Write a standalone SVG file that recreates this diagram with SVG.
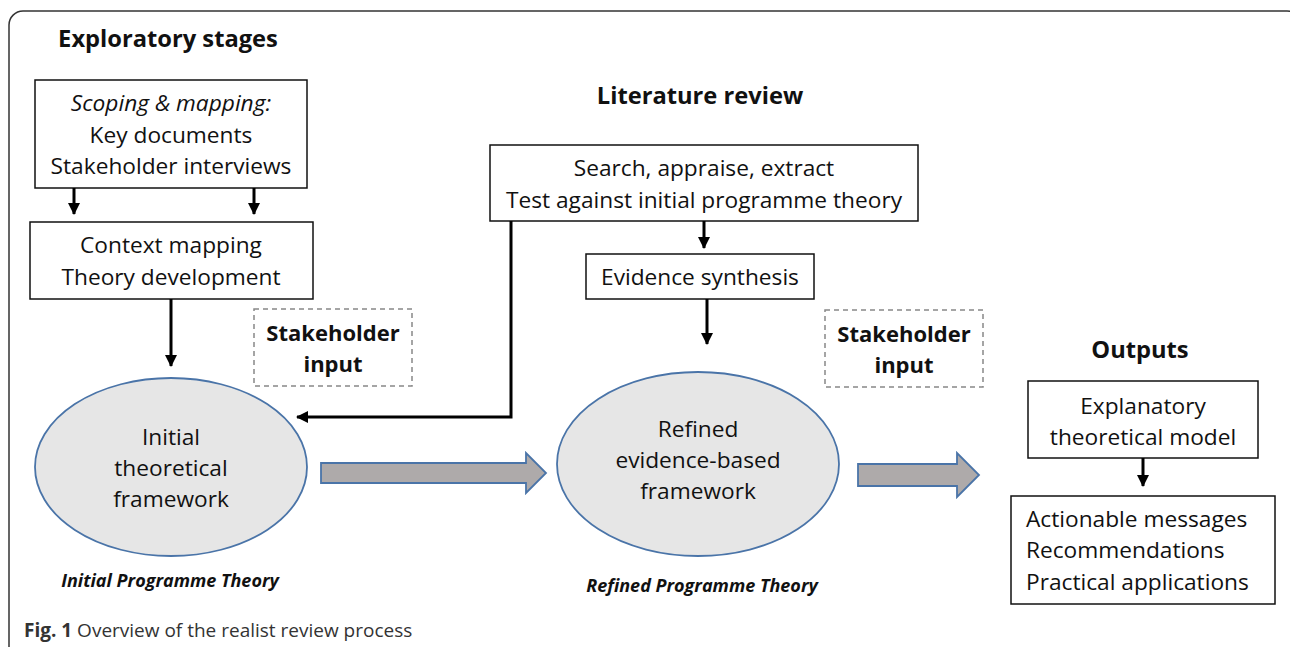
<svg xmlns="http://www.w3.org/2000/svg" width="1290" height="647" viewBox="0 0 1290 647">
<defs>
<marker id="ah" markerUnits="userSpaceOnUse" markerWidth="12" markerHeight="12" viewBox="0 0 12 12" refX="11" refY="6" orient="auto">
<path d="M0,0 L12,6 L0,12 Z" fill="#000"/>
</marker>
<style>
.t{font-family:"Open Sans","Liberation Sans",sans-serif;font-size:22.7px;fill:#111;text-anchor:middle}
.l{text-anchor:start}
.b{font-family:"Open Sans","Liberation Sans",sans-serif;font-size:22px;font-weight:bold;fill:#111;text-anchor:middle}
.h{font-size:23.7px}
.bi{font-family:"Open Sans","Liberation Sans",sans-serif;font-size:18px;font-weight:bold;font-style:italic;fill:#111;text-anchor:middle}
.box{fill:#fff;stroke:#111;stroke-width:1.5}
.dash{fill:#fff;stroke:#888;stroke-width:1.5;stroke-dasharray:5 4}
.ell{fill:#e6e6e6;stroke:#4a74a8;stroke-width:1.8}
.blk{fill:#aeaaaa;stroke:#4a74a8;stroke-width:1.8}
.ln{fill:none;stroke:#000;stroke-width:3}
</style>
</defs>
<rect x="9" y="11" width="1292" height="700" rx="14" fill="none" stroke="#333" stroke-width="1.5"/>
<text class="b h" x="168" y="47">Exploratory stages</text>
<text class="b h" x="700" y="104">Literature review</text>
<text class="b h" x="1140" y="358">Outputs</text>

<g id="scoping">
<rect class="box" x="35" y="80" width="272" height="108"/>
<text class="t" x="171" y="111" font-style="italic">Scoping &amp; mapping:</text>
<text class="t" x="171" y="143">Key documents</text>
<text class="t" x="171" y="174">Stakeholder interviews</text>
</g>
<g id="context">
<rect class="box" x="30" y="222" width="283" height="77"/>
<text class="t" x="171" y="253">Context mapping</text>
<text class="t" x="171" y="285">Theory development</text>
</g>
<g id="initial">
<ellipse class="ell" cx="171" cy="467" rx="136" ry="89"/>
<text class="t" x="171" y="445">Initial</text>
<text class="t" x="171" y="476">theoretical</text>
<text class="t" x="171" y="507">framework</text>
<text class="bi" x="170" y="587">Initial Programme Theory</text>
</g>
<g id="stake1">
<rect class="dash" x="254" y="309" width="158" height="77"/>
<text class="b" x="333" y="341">Stakeholder</text>
<text class="b" x="333" y="372">input</text>
</g>
<g id="search">
<rect class="box" x="490" y="145" width="428" height="76"/>
<text class="t" x="704" y="176">Search, appraise, extract</text>
<text class="t" x="704" y="208">Test against initial programme theory</text>
</g>
<g id="synthesis">
<rect class="box" x="586" y="254" width="228" height="45"/>
<text class="t" x="700" y="285">Evidence synthesis</text>
</g>
<g id="refined">
<ellipse class="ell" cx="698" cy="464" rx="141" ry="92"/>
<text class="t" x="698" y="437">Refined</text>
<text class="t" x="698" y="468">evidence-based</text>
<text class="t" x="698" y="499">framework</text>
<text class="bi" x="702" y="592">Refined Programme Theory</text>
</g>
<g id="stake2">
<rect class="dash" x="825" y="310" width="158" height="77"/>
<text class="b" x="904" y="342">Stakeholder</text>
<text class="b" x="904" y="373">input</text>
</g>
<g id="model">
<rect class="box" x="1028" y="381" width="230" height="77"/>
<text class="t" x="1143" y="414">Explanatory</text>
<text class="t" x="1143" y="445">theoretical model</text>
</g>
<g id="messages">
<rect class="box" x="1011" y="496" width="264" height="108"/>
<text class="t l" x="1026" y="527">Actionable messages</text>
<text class="t l" x="1026" y="558">Recommendations</text>
<text class="t l" x="1026" y="590">Practical applications</text>
</g>

<g id="connectors">
<line class="ln" x1="74" y1="188" x2="74" y2="214" marker-end="url(#ah)"/>
<line class="ln" x1="254" y1="188" x2="254" y2="214" marker-end="url(#ah)"/>
<line class="ln" x1="171" y1="299" x2="171" y2="366" marker-end="url(#ah)"/>
<polyline class="ln" points="511,221 511,417 297,417" marker-end="url(#ah)"/>
<line class="ln" x1="704" y1="221" x2="704" y2="248" marker-end="url(#ah)"/>
<line class="ln" x1="707" y1="299" x2="707" y2="344" marker-end="url(#ah)"/>
<line class="ln" x1="1143" y1="458" x2="1143" y2="486" marker-end="url(#ah)"/>
<polygon class="blk" points="321,463 526,463 526,453 546,473 526,493 526,483 321,483"/>
<polygon class="blk" points="858,464 957,464 957,453 979,475 957,497 957,486 858,486"/>
</g>

<text x="24" y="637" font-family="'Open Sans','Liberation Sans',sans-serif" font-size="19" fill="#333"><tspan font-weight="bold">Fig. 1</tspan> Overview of the realist review process</text>
</svg>
